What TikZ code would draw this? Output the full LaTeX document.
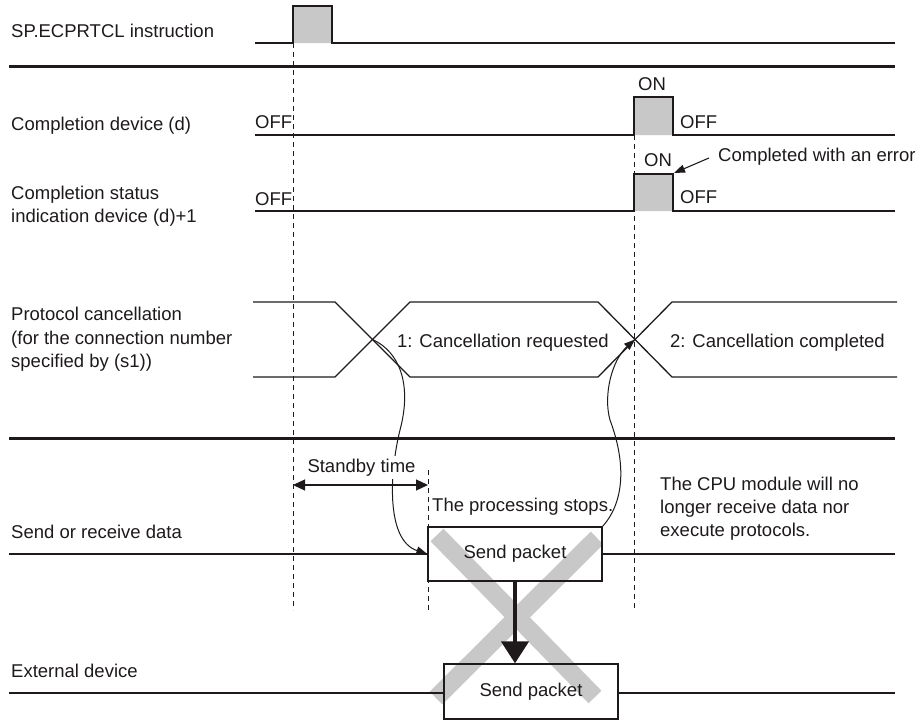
\documentclass[tikz,border=0pt]{standalone}
\usepackage{fontspec}
\setmainfont{Liberation Sans}
\usetikzlibrary{arrows.meta}
\definecolor{ink}{HTML}{1E1A1B}
\definecolor{pulsegray}{HTML}{C8C8C8}
\begin{document}
\begin{tikzpicture}[x=1pt,y=-1pt,
  font=\fontsize{18.5}{23}\selectfont,
  sig/.style={draw=ink, line width=1.3pt},
  sepline/.style={draw=ink, line width=3pt},
  dataline/.style={draw=ink, line width=2.6pt},
  guide/.style={draw=ink, line width=1pt, dash pattern=on 5pt off 4pt},
  pulse/.style={draw=ink, fill=pulsegray, line width=1.3pt},
  txt/.style={inner sep=0pt, text=ink, anchor=base west},
  multi/.style={inner sep=0pt, text=ink, anchor=north west, align=left},
  pktbox/.style={draw=ink, line width=1.3pt, minimum width=174pt, minimum height=54pt, inner sep=0pt, text=ink},
  curveline/.style={draw=ink, line width=1pt, -{Triangle[width=8pt,length=11pt]}},
  crossband/.style={draw=pulsegray, line width=18pt},
]
\useasboundingbox (0,0) rectangle (918,720);

% ---------- left labels ----------
\node[txt] (l1) at (11,37) {SP.ECPRTCL instruction};
\node[txt] (l2) at (11,130) {Completion device (d)};
\node[multi] (l3) at (11,186) {Completion status\\[-0.5pt]indication device (d)+1};
\node[multi] (l4) at (11,307) {Protocol cancellation\\[0.5pt](for the connection number\\[0.5pt]specified by (s1))};
\node[txt] (l5) at (11,538) {Send or receive data};
\node[txt] (l6) at (11,677) {External device};

% ---------- separators ----------
\draw[sepline] (9,66) -- (895,66);
\draw[sepline] (9,438) -- (895,438);

% ---------- guides ----------
\draw[guide] (293,43) -- (293,610);
\draw[guide] (634,135) -- (634,610);
\draw[guide] (428,470) -- (428,610);

% ---------- instruction pulse ----------
\draw[pulse] (255,43) -- (293,43) -- (293,6) -- (332,6) -- (332,43) -- (895,43);

% ---------- completion device ----------
\draw[pulse] (255,135) -- (634,135) -- (634,97) -- (673,97) -- (673,135) -- (895,135);
\node[txt] (off1) at (255,128) {OFF};
\node[txt] (on1) at (638,90) {ON};
\node[txt] (off2) at (680,128) {OFF};

% ---------- completion status ----------
\draw[pulse] (255,211) -- (634,211) -- (634,174) -- (673,174) -- (673,211) -- (895,211);
\node[txt] (off3) at (255,205) {OFF};
\node[txt] (on2) at (644,166) {ON};
\node[txt] (off4) at (680,203) {OFF};
\node[txt] (err) at (718,161) {Completed with an error};
\coordinate (errtip) at (674,173);
\draw[draw=ink, line width=1.1pt, -{Triangle[width=8pt,length=11pt]}] (err.west |- 0,157) ++(-9,1) -- (errtip);

% ---------- protocol cancellation ----------
\draw[sig] (253,302) -- (335,302) -- (410,377) -- (598,377) -- (672,302) -- (897,302);
\draw[sig] (253,377) -- (335,377) -- (410,302) -- (598,302) -- (672,377) -- (897,377);
\coordinate (x1) at (372.5,339.5);
\coordinate (x2) at (635,339.5);
\node[txt] (req) at (397,347) {1: Cancellation requested};
\node[txt] (cmp) at (670,347) {2: Cancellation completed};

% ---------- gray cross ----------
\draw[crossband] (437,535) -- (595,697);
\draw[crossband] (597,538) -- (436,698);

% ---------- send / receive data ----------
\node[pktbox] (sp1) at (515,554) {Send packet};
\draw[dataline] (9,554) -- (sp1.west);
\draw[dataline] (sp1.east) -- (895,554);

% ---------- external device ----------
\node[pktbox, minimum height=55pt] (sp2) at (531,691.5) {Send packet};
\draw[dataline] (9,693) -- (sp2.west |- 0,693);
\draw[dataline] (sp2.east |- 0,693) -- (895,693);

% ---------- thick arrow ----------
\draw[draw=ink, line width=4.5pt, -{Triangle[width=27pt,length=22pt]}] (sp1.south) -- (sp1.south |- sp2.north);

% ---------- standby time ----------
\draw[draw=ink, line width=1.3pt, {Triangle[width=11pt,length=12pt]}-{Triangle[width=11pt,length=12pt]}] (293,485) -- (428,485);

\node[txt] (stop) at (432,511) {The processing stops.};
\node[multi] (cpu) at (660,477) {The CPU module will no\\[0pt]longer receive data nor\\[0pt]execute protocols.};

% ---------- curves ----------
\draw[curveline] (x1) .. controls (400,352) and (412,385) .. (400,430) .. controls (390,470) and (385,540) .. (sp1.west);
\node[inner sep=3pt, fill=white, text=ink, anchor=base] (stb) at (361.5,472) {Standby time};
\draw[curveline] (sp1.north east) .. controls (626,500) and (625,460) .. (610,420) .. controls (603,395) and (612,360) .. (x2);
\end{tikzpicture}
\end{document}
